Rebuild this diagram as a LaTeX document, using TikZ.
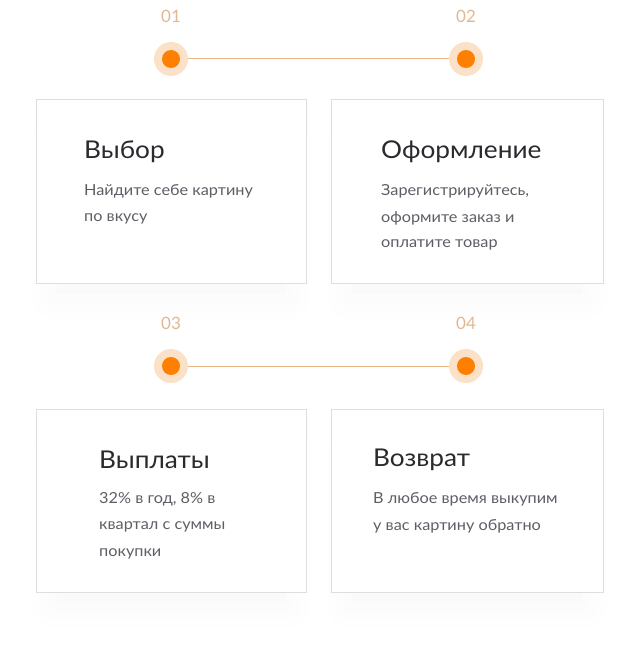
\documentclass[tikz,border=0pt]{standalone}
\usepackage{fontspec}
\setmainfont{Lato}
\newfontfamily\widefont[FakeStretch=1.07]{Lato}
\usetikzlibrary{shadows.blur}
\definecolor{ring}{HTML}{FBE1C8}
\definecolor{dot}{HTML}{FF7F00}
\definecolor{track}{HTML}{E9B685}
\definecolor{num}{HTML}{E2B790}
\definecolor{frame}{HTML}{DEDEDE}
\definecolor{ttl}{HTML}{2A2A2E}
\definecolor{body}{HTML}{5E5E66}
\tikzset{
  ringnode/.style={circle, fill=ring, minimum size=34pt, inner sep=0pt},
  dotnode/.style={circle, fill=dot, minimum size=18pt, inner sep=0pt},
  numlabel/.style={text=num, font=\fontsize{17}{17}\selectfont, inner sep=0pt},
  card/.style={draw=frame, line width=1pt, fill=white, inner sep=0pt,
    blur shadow={shadow xshift=0pt, shadow yshift=-30pt, shadow scale=0.88,
      shadow blur radius=32pt, shadow opacity=2.6}},
  cardtitle/.style={anchor=west, text=ttl, font=\widefont\fontsize{24.5}{24.5}\selectfont, inner sep=0pt},
  cardtext/.style={anchor=west, text=body, font=\widefont\fontsize{15.2}{15.2}\selectfont, inner sep=0pt},
}
\begin{document}
\begin{tikzpicture}[x=1pt, y=-1pt]
\useasboundingbox (0,0) rectangle (638,663);
% row one: timeline
\node[numlabel] (n1) at (171,16) {01};
\node[numlabel] (n2) at (466,16) {02};
\node[ringnode] (r1) at (171,59) {};
\node[ringnode] (r2) at (466,59) {};
\draw[track, line width=1pt] (r1.east) -- (r2.west);
\node[dotnode] (d1) at (r1) {};
\node[dotnode] (d2) at (r2) {};
% row one: cards
\node[card, minimum width=270pt, minimum height=183pt] (c1) at (171,191.5) {};
\node[card, minimum width=272pt, minimum height=183pt] (c2) at (467,191.5) {};
\node[cardtitle] (t1) at (84,151.5) {Выбор};
\node[cardtext] (b1a) at (84,191.5) {Найдите себе картину};
\node[cardtext] (b1b) at (84,218.5) {по вкусу};
\node[cardtitle] (t2) at (381,151.5) {Оформление};
\node[cardtext] (b2a) at (381,191.5) {Зарегистрируйтесь,};
\node[cardtext] (b2b) at (381,218) {оформите заказ и};
\node[cardtext] (b2c) at (381,244.5) {оплатите товар};
% row two: timeline
\node[numlabel] (n3) at (171,323) {03};
\node[numlabel] (n4) at (466,323) {04};
\node[ringnode] (r3) at (171,366) {};
\node[ringnode] (r4) at (466,366) {};
\draw[track, line width=1pt] (r3.east) -- (r4.west);
\node[dotnode] (d3) at (r3) {};
\node[dotnode] (d4) at (r4) {};
% row two: cards
\node[card, minimum width=270pt, minimum height=183pt] (c3) at (171,500.5) {};
\node[card, minimum width=272pt, minimum height=183pt] (c4) at (467,500.5) {};
\node[cardtitle] (t3) at (99,460) {Выплаты};
\node[cardtext] (b3a) at (99,499.5) {32\% в год, 8\% в};
\node[cardtext] (b3b) at (99,526.5) {квартал с суммы};
\node[cardtext] (b3c) at (99,553.5) {покупки};
\node[cardtitle] (t4) at (373,460) {Возврат};
\node[cardtext] (b4a) at (373,499.5) {В любое время выкупим};
\node[cardtext] (b4b) at (373,526.5) {у вас картину обратно};
\end{tikzpicture}
\end{document}
